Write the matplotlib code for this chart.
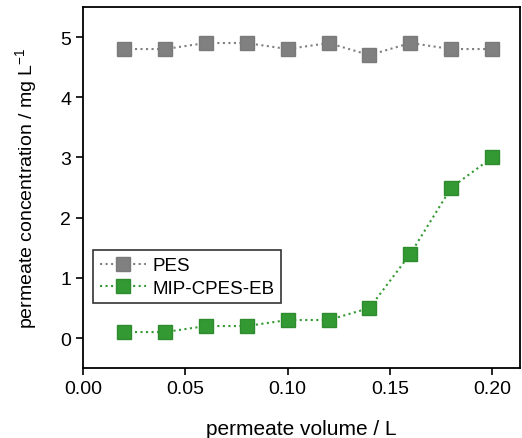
import numpy as np
import matplotlib
matplotlib.use("Agg")
import matplotlib.pyplot as plt

plt.rcParams['font.family'] = ['Liberation Sans', 'DejaVu Sans']
plt.rcParams['mathtext.default'] = 'regular'

# data
volume = [0.02, 0.04, 0.06, 0.08, 0.10, 0.12, 0.14, 0.16, 0.18, 0.20]
pes = [4.8, 4.8, 4.9, 4.9, 4.8, 4.9, 4.7, 4.9, 4.8, 4.8]
mip = [0.1, 0.1, 0.2, 0.2, 0.3, 0.3, 0.5, 1.4, 2.5, 3.0]

fig = plt.figure(figsize=(5.22, 4.39), dpi=100)
ax = fig.add_axes([0.159, 0.159, 0.837, 0.823])

ax.plot(volume, pes, ls=':', lw=1.5, color='#808080', marker='s', ms=10,
        mec='#7a7a7a', label='PES')
ax.plot(volume, mip, ls=':', lw=1.5, color='#339933', marker='s', ms=10,
        mec='#2e8b2e', label='MIP-CPES-EB')

ax.set_xlim(0, 0.2135)
ax.set_ylim(-0.5, 5.5)
ax.set_xticks([0.00, 0.05, 0.10, 0.15, 0.20])
ax.set_xticklabels(['0.00', '0.05', '0.10', '0.15', '0.20'])
ax.set_yticks([0, 1, 2, 3, 4, 5])

ax.tick_params(direction='out', length=5, width=1.2, labelsize=14,
               top=False, right=False)
for s in ax.spines.values():
    s.set_linewidth(1.3)

ax.set_xlabel('permeate volume / L', fontsize=15, labelpad=16)
ax.set_ylabel('permeate concentration / mg L$^{-1}$', fontsize=14, labelpad=15)

leg = ax.legend(loc='upper left', bbox_to_anchor=(0.023, 0.326), fontsize=13.5,
                frameon=True, fancybox=False, edgecolor='black',
                handlelength=2.5, borderaxespad=0, borderpad=0.35,
                labelspacing=0.3, handletextpad=0.3)
leg.get_frame().set_linewidth(1.2)

fig.savefig('out.png', dpi=100)
